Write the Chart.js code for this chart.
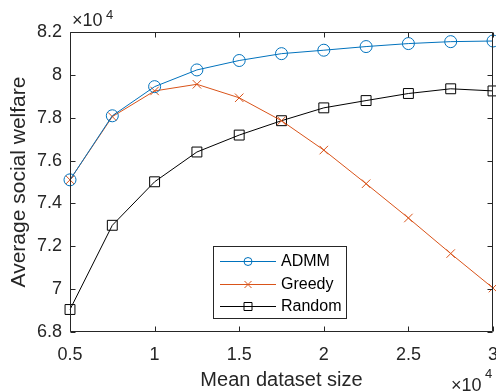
<!DOCTYPE html>
<html>
<head>
<meta charset="utf-8">
<script src="https://cdn.jsdelivr.net/npm/chart.js@4.4.1/dist/chart.umd.min.js"></script>
<style>
html,body{margin:0;padding:0;background:#fff;}
#wrap{width:496px;height:392px;position:relative;}
</style>
</head>
<body>
<div id="wrap"><canvas id="c" width="496" height="392"></canvas></div>
<script>
const xValues = [5000, 7500, 10000, 12500, 15000, 17500, 20000, 22500, 25000, 27500, 30000];
const admm   = [75100, 78090, 79450, 80230, 80670, 80990, 81150, 81320, 81460, 81550, 81580];
const greedy = [75100, 78050, 79250, 79560, 78930, 77860, 76490, 74920, 73320, 71660, 70050];
const random = [69050, 72980, 75010, 76400, 77190, 77860, 78460, 78800, 79130, 79350, 79250];
const seriesNames = ['ADMM', 'Greedy', 'Random'];
const xTickValues = [5000, 10000, 15000, 20000, 25000, 30000];
const yTickValues = [68000, 70000, 72000, 74000, 76000, 78000, 80000, 82000];
const xTitle = 'Mean dataset size';
const yTitle = 'Average social welfare';

const FONT = '"Liberation Sans", Arial, Helvetica, sans-serif';
const AXIS = '#262626';
const colors = ['#0072BD', '#D95319', '#000000'];

function pts(ys){ return xValues.map((x,i)=>({x:x, y:ys[i]})); }
const zeroPad = () => ({ left: 0, right: 0, top: 0, bottom: 0 });

const boxPlugin = {
  id: 'matlabBox',
  afterDraw(chart){
    const ctx = chart.ctx;
    const a = chart.chartArea;
    const xs = chart.scales.x, ys = chart.scales.y;
    const L = Math.round(a.left)+0.5, R = Math.round(a.right)-0.5;
    const T = Math.round(a.top)+0.5, B = Math.round(a.bottom)-0.5;
    ctx.save();
    ctx.strokeStyle = AXIS; ctx.lineWidth = 1;
    ctx.beginPath();
    ctx.rect(L, T, R-L, B-T);
    const tl = 5;
    xTickValues.forEach(v=>{
      const px = Math.round(xs.getPixelForValue(v))+0.5;
      ctx.moveTo(px, B); ctx.lineTo(px, B-tl);
      ctx.moveTo(px, T); ctx.lineTo(px, T+tl);
    });
    yTickValues.forEach(v=>{
      const py = Math.round(ys.getPixelForValue(v))+0.5;
      ctx.moveTo(L, py); ctx.lineTo(L+tl, py);
      ctx.moveTo(R, py); ctx.lineTo(R-tl, py);
    });
    ctx.stroke();

    // exponent labels
    ctx.fillStyle = AXIS;
    ctx.textBaseline = 'alphabetic';
    ctx.textAlign = 'left';
    ctx.font = '18px ' + FONT;
    ctx.fillText('\u00d710', 72, 26);
    ctx.font = '13px ' + FONT;
    ctx.fillText('4', 106, 19);
    ctx.font = '18px ' + FONT;
    ctx.fillText('\u00d710', 451, 391);
    ctx.font = '13px ' + FONT;
    ctx.fillText('4', 485, 378);

    // legend
    const lx0 = 213.5, ly0 = 246.5, lw = 133, lh = 72;
    ctx.fillStyle = '#fff';
    ctx.fillRect(lx0, ly0, lw, lh);
    ctx.strokeStyle = AXIS;
    ctx.strokeRect(lx0, ly0, lw, lh);
    const rows = [261, 284, 306];
    chart.data.datasets.forEach((ds, i)=>{
      const y = rows[i] + 0.5;
      ctx.strokeStyle = ds.borderColor;
      ctx.lineWidth = 1;
      ctx.beginPath();
      ctx.moveTo(220, y); ctx.lineTo(276, y);
      ctx.stroke();
      const mx = 248;
      ctx.beginPath();
      if (ds.pointStyle === 'circle') {
        ctx.arc(mx, y, 4, 0, Math.PI*2);
      } else if (ds.pointStyle === 'crossRot') {
        ctx.moveTo(mx-3.5, y-3.5); ctx.lineTo(mx+3.5, y+3.5);
        ctx.moveTo(mx-3.5, y+3.5); ctx.lineTo(mx+3.5, y-3.5);
      } else {
        ctx.rect(mx-4, y-4, 8, 8);
      }
      ctx.stroke();
      ctx.fillStyle = '#000';
      ctx.font = '16px ' + FONT;
      ctx.textBaseline = 'middle';
      ctx.textAlign = 'left';
      ctx.fillText(ds.label, 281, rows[i]+1);
    });
    ctx.restore();
  }
};

new Chart(document.getElementById('c'), {
  type: 'line',
  data: {
    datasets: [
      { label: seriesNames[0], data: pts(admm), borderColor: colors[0], backgroundColor: 'transparent',
        pointStyle: 'circle', pointRadius: 6, pointBorderWidth: 1, pointBorderColor: colors[0], borderWidth: 1 },
      { label: seriesNames[1], data: pts(greedy), borderColor: colors[1], backgroundColor: 'transparent',
        pointStyle: 'crossRot', pointRadius: 6, pointBorderWidth: 1, pointBorderColor: colors[1], borderWidth: 1 },
      { label: seriesNames[2], data: pts(random), borderColor: colors[2], backgroundColor: 'transparent',
        pointStyle: 'rect', pointRadius: 7, pointBorderWidth: 1, pointBorderColor: colors[2], borderWidth: 1 }
    ]
  },
  options: {
    responsive: false,
    animation: false,
    clip: false,
    layout: { autoPadding: false, padding: { top: 32, right: 3, left: 0, bottom: 0 } },
    plugins: { legend: { display: false }, tooltip: { enabled: false } },
    elements: { line: { tension: 0 } },
    scales: {
      x: {
        type: 'linear', min: 5000, max: 30000,
        grid: { display: false, drawTicks: false },
        border: { display: false },
        afterBuildTicks(s){ s.ticks = xTickValues.map(v=>({value:v})); },
        afterFit(s){ s.height = 60; s.paddingLeft = 0; s.paddingRight = 0; s.getPadding = zeroPad; },
        ticks: { color: AXIS, font: { family: FONT, size: 18 }, padding: 12, maxRotation: 0,
                 callback: v => String(v/10000) },
        title: { display: true, text: xTitle, color: AXIS, font: { family: FONT, size: 20 }, padding: { top: 0, bottom: 0 } }
      },
      y: {
        type: 'linear', min: 68000, max: 82000,
        grid: { display: false, drawTicks: false },
        border: { display: false },
        afterBuildTicks(s){ s.ticks = yTickValues.map(v=>({value:v})); },
        afterFit(s){ s.width = 70; s.paddingTop = 0; s.paddingBottom = 0; s.getPadding = zeroPad; },
        ticks: { color: AXIS, font: { family: FONT, size: 18 }, padding: 8,
                 callback: v => String(Math.round(v/1000)/10) },
        title: { display: true, text: yTitle, color: AXIS, font: { family: FONT, size: 21 }, padding: { top: 7, bottom: 0 } }
      }
    }
  },
  plugins: [boxPlugin]
});
</script>
</body>
</html>
